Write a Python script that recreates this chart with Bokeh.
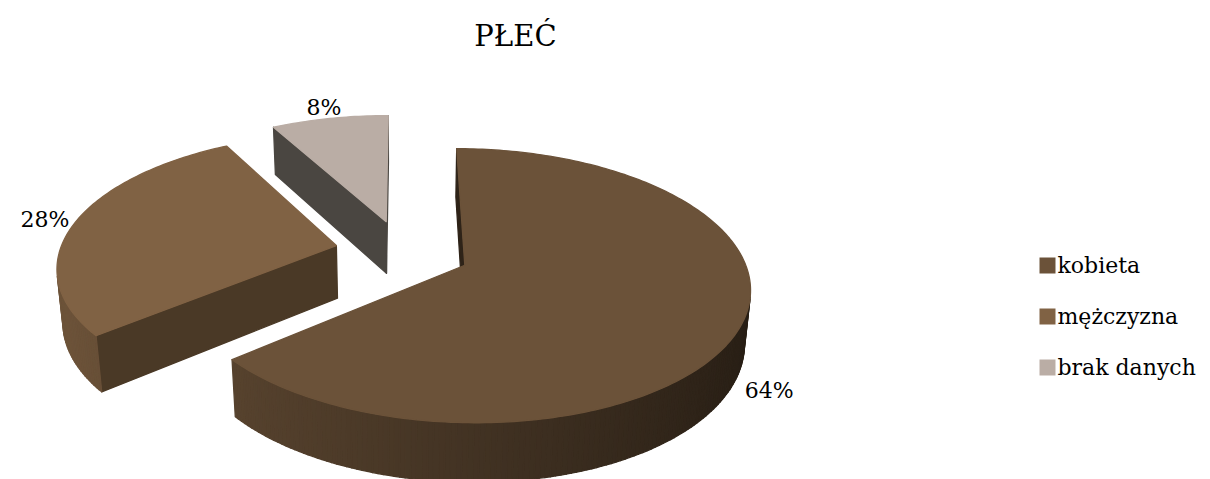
import numpy as np
from bokeh.plotting import figure
from bokeh.models import Range1d
from bokeh.embed import file_html
from bokeh.resources import INLINE
from bokeh.core.properties import value

# ---- data ----
title = "PŁEĆ"
categories = ["kobieta", "mężczyzna", "brak danych"]
values = [64, 28, 8]
labels = ["64%", "28%", "8%"]

# ---- style ----
top_colors = ["#6B5239", "#806244", "#BAADA5"]
side_colors = ["#2E2318", "#4A3926", "#4A4641"]
FONT = "DejaVu Serif"

W, H = 1210, 479
F = 1660.0
D = 6.0
PHI = np.radians(28)
SX0, SY0 = 402.0, 251.0
EXPL = 0.245
THICK = 0.22


def proj(X, Y, Z):
    X = np.asarray(X, float); Y = np.asarray(Y, float); Z = np.asarray(Z, float)
    xc = X
    yc = Y * np.sin(PHI) + Z * np.cos(PHI)
    zc = D + Y * np.cos(PHI) - Z * np.sin(PHI)
    return SX0 + F * xc / zc, SY0 - F * yc / zc


CAM = np.array([0.0, -D * np.cos(PHI), D * np.sin(PHI)])


def hex2rgb(h):
    h = h.lstrip("#")
    return [int(h[i:i + 2], 16) for i in (0, 2, 4)]


def shade(h, f):
    r, g, b = hex2rgb(h)
    return "#%02x%02x%02x" % tuple(int(max(0, min(255, c * f))) for c in (r, g, b))


def visible(n, p):
    return float(np.dot(n, CAM - p)) > 0


total = float(sum(values))
bounds = np.concatenate([[0.0], np.cumsum(values)]) / total * 2 * np.pi

slices = []
for i, v in enumerate(values):
    t0, t1 = bounds[i], bounds[i + 1]
    mid = 0.5 * (t0 + t1)
    ox, oy = EXPL * np.sin(mid), EXPL * np.cos(mid)
    pc = np.array([ox + 0.5 * np.sin(mid), oy + 0.5 * np.cos(mid), 0.0])
    depth = D + pc[1] * np.cos(PHI)
    slices.append((depth, i, t0, t1, mid, ox, oy))

slices.sort(key=lambda s: -s[0])  # far first

xs, ys, cols = [], [], []
for depth, i, t0, t1, mid, ox, oy in slices:
    n = max(8, int((t1 - t0) / (2 * np.pi) * 360))
    ts = np.linspace(t0, t1, n + 1)
    # radial faces
    for t, sgn in ((t0, -1), (t1, 1)):
        nrm = np.array([sgn * np.cos(t), -sgn * np.sin(t), 0.0])
        pm = np.array([ox + 0.5 * np.sin(t), oy + 0.5 * np.cos(t), -THICK / 2])
        if visible(nrm, pm):
            X = [ox, ox + np.sin(t), ox + np.sin(t), ox]
            Y = [oy, oy + np.cos(t), oy + np.cos(t), oy]
            Z = [0, 0, -THICK, -THICK]
            px, py = proj(X, Y, Z)
            xs.append(list(px)); ys.append(list(py)); cols.append(side_colors[i])
    # outer curved side
    for a, b in zip(ts[:-1], ts[1:]):
        tm = 0.5 * (a + b)
        nrm = np.array([np.sin(tm), np.cos(tm), 0.0])
        pm = np.array([ox + np.sin(tm), oy + np.cos(tm), -THICK / 2])
        if visible(nrm, pm):
            X = [ox + np.sin(a), ox + np.sin(b), ox + np.sin(b), ox + np.sin(a)]
            Y = [oy + np.cos(a), oy + np.cos(b), oy + np.cos(b), oy + np.cos(a)]
            Z = [0, 0, -THICK, -THICK]
            px, py = proj(X, Y, Z)
            f = min(0.85, max(0.36, 0.62 - 0.25 * np.sin(tm)))
            xs.append(list(px)); ys.append(list(py)); cols.append(shade(top_colors[i], f))
    # top face
    X = np.concatenate([[ox], ox + np.sin(ts)])
    Y = np.concatenate([[oy], oy + np.cos(ts)])
    Z = np.zeros_like(X)
    px, py = proj(X, Y, Z)
    xs.append(list(px)); ys.append(list(py)); cols.append(top_colors[i])

p = figure(width=W, height=H, output_backend="svg", toolbar_location=None,
           x_range=Range1d(0, W), y_range=Range1d(H, 0), min_border=0)
p.axis.visible = False
p.grid.visible = False
p.outline_line_color = None
p.background_fill_color = "white"
p.border_fill_color = "white"

p.patches(xs, ys, fill_color=cols, line_color=cols, line_width=1.3, line_join="round")

# data labels
lx, ly = [], []
for i in range(len(values)):
    t0, t1 = bounds[i], bounds[i + 1]
    mid = 0.5 * (t0 + t1)
    ox, oy = EXPL * np.sin(mid), EXPL * np.cos(mid)
    X = ox + 1.12 * np.sin(mid)
    Y = oy + 1.12 * np.cos(mid)
    Z = -THICK if np.cos(mid) < 0 else 0.0
    px, py = proj(X, Y, Z)
    lx.append(float(px)); ly.append(float(py))
p.text(x=lx, y=ly, text=labels, text_font=value(FONT), text_font_size="22px",
       text_align="center", text_baseline="middle", text_color="#000000")

# title
p.text(x=[W * 0.4256], y=[35], text=[title], text_font=value(FONT), text_font_size="29px",
       text_align="center", text_baseline="middle", text_color="#000000")

# legend
leg_y = [265 + 51 * i for i in range(len(categories))]
p.scatter(x=[1047] * len(categories), y=leg_y, marker="square", size=16,
          fill_color=top_colors, line_color=None)
p.text(x=[1057] * len(categories), y=leg_y, text=categories, text_font=value(FONT),
       text_font_size="22px", text_align="left", text_baseline="middle", text_color="#000000")

open("out.html", "w").write(file_html(p, INLINE))
